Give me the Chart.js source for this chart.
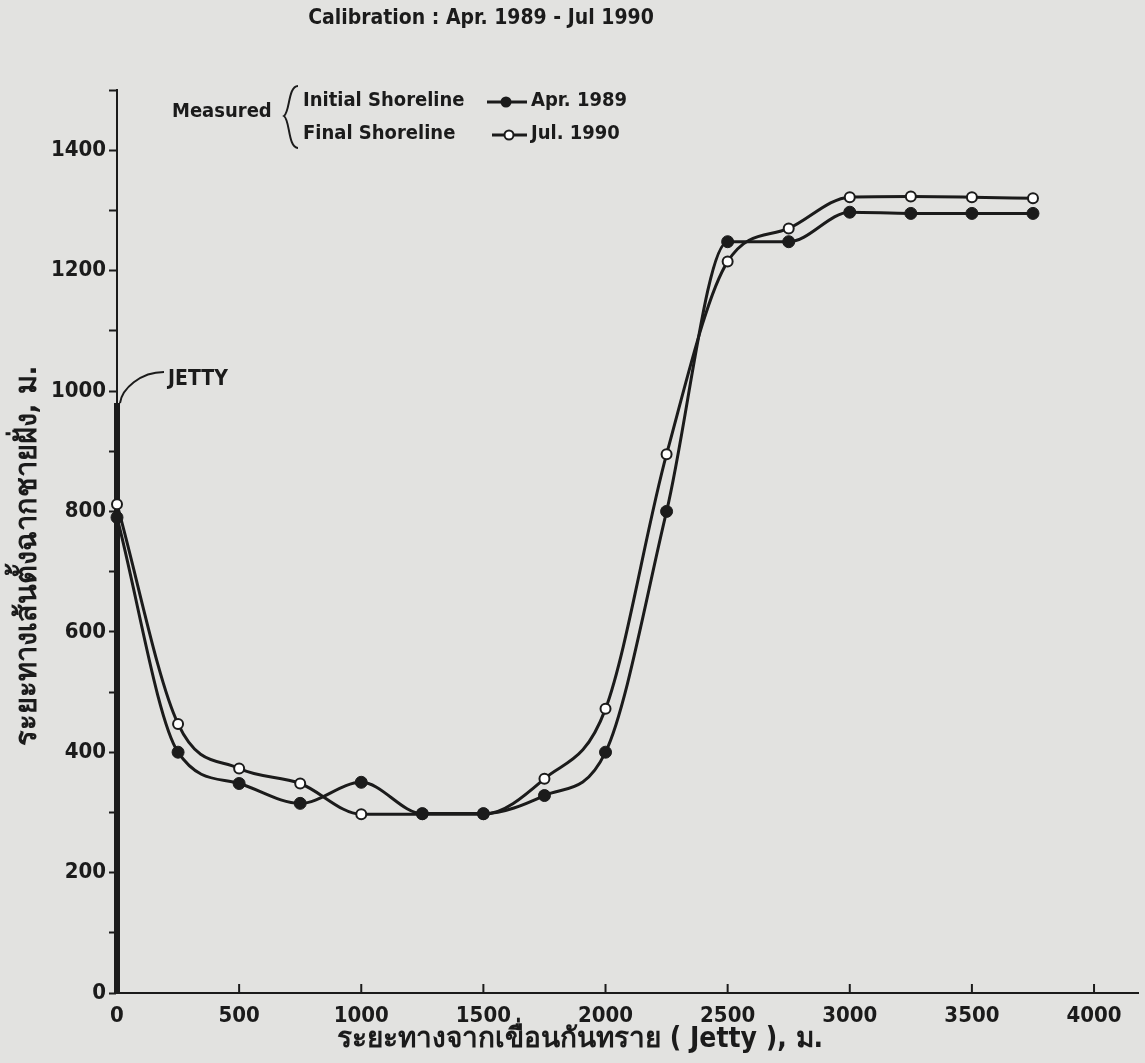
<!DOCTYPE html>
<html>
<head>
<meta charset="utf-8">
<script src="https://cdn.jsdelivr.net/npm/chart.js@4.4.0/dist/chart.umd.min.js"></script>
<style>
  html, body { margin: 0; padding: 0; background: #e2e2e0; }
  #wrap { width: 1145px; height: 1063px; position: relative; }
</style>
</head>
<body>
<div id="wrap"><canvas id="myChart"></canvas></div>
<script>
// distance from jetty (m) and shoreline position (m)
const distance = [0, 250, 500, 750, 1000, 1250, 1500, 1750, 2000, 2250, 2500, 2750, 3000, 3250, 3500, 3750];
const initialApr1989 = [790, 400, 348, 315, 350, 298, 298, 328, 400, 800, 1248, 1248, 1297, 1295, 1295, 1295];
const finalJul1990 = [812, 447, 373, 348, 297, 297, 297, 356, 472, 895, 1215, 1270, 1322, 1323, 1322, 1320];
const jettyX = [0, 0];
const jettyY = [0, 980];
const xTickValues = [0, 500, 1000, 1500, 2000, 2500, 3000, 3500, 4000];

const INK = '#1b1b1b';
const FONT = '"DejaVu Sans Condensed", "DejaVu Sans", sans-serif';

const toPoints = (xs, ys) => xs.map((x, i) => ({ x: x, y: ys[i] }));

// titles, legend, jetty label, inside x ticks
const decorations = {
  id: 'decorations',
  afterDraw(chart) {
    const ctx = chart.ctx;
    const x = chart.scales.x, y = chart.scales.y;
    ctx.save();
    ctx.fillStyle = INK;
    ctx.strokeStyle = INK;
    ctx.textBaseline = 'middle';

    // title
    ctx.font = 'bold 21px ' + FONT;
    ctx.textAlign = 'center';
    ctx.fillText('Calibration : Apr. 1989 - Jul 1990', 481, 19);

    // x axis title
    ctx.font = 'bold 28px ' + FONT;
    ctx.fillText('ระยะทางจากเขื่อนกันทราย ( Jetty ), ม.', 580, 1040);

    // y axis title
    ctx.save();
    ctx.translate(28, 556);
    ctx.rotate(-Math.PI / 2);
    ctx.font = 'bold 29px ' + FONT;
    ctx.fillText('ระยะทางเส้นตั้งฉากชายฝั่ง, ม.', 0, 0);
    ctx.restore();

    // inside ticks on x axis
    ctx.lineWidth = 2;
    xTickValues.forEach(v => {
      const px = x.getPixelForValue(v);
      ctx.beginPath();
      ctx.moveTo(px, y.bottom);
      ctx.lineTo(px, y.bottom - 9);
      ctx.stroke();
    });

    // legend
    ctx.textAlign = 'left';
    ctx.font = 'bold 20px ' + FONT;
    ctx.fillText('Measured', 172, 112);
    ctx.lineWidth = 2;
    ctx.beginPath();
    ctx.moveTo(298, 86);
    ctx.bezierCurveTo(288, 86, 290, 112, 284, 116);
    ctx.bezierCurveTo(290, 120, 288, 148, 298, 148);
    ctx.stroke();
    ctx.fillText('Initial Shoreline', 303, 101);
    ctx.fillText('Final Shoreline', 303, 134);
    ctx.fillText('Apr. 1989', 531, 101);
    ctx.fillText('Jul. 1990', 531, 134);
    ctx.lineWidth = 3;
    ctx.beginPath();
    ctx.moveTo(487, 102); ctx.lineTo(527, 102);
    ctx.moveTo(492, 135); ctx.lineTo(527, 135);
    ctx.stroke();
    ctx.beginPath();
    ctx.arc(506, 102, 5.5, 0, Math.PI * 2);
    ctx.fill();
    ctx.beginPath();
    ctx.arc(509, 135, 4.5, 0, Math.PI * 2);
    ctx.fillStyle = '#ffffff';
    ctx.fill();
    ctx.lineWidth = 2;
    ctx.stroke();
    ctx.fillStyle = INK;

    // jetty label with leader
    const jx = x.getPixelForValue(0) + 3;
    const jy = y.getPixelForValue(jettyY[1]);
    ctx.font = 'bold 21px ' + FONT;
    ctx.fillText('JETTY', 168, 380);
    ctx.lineWidth = 2;
    ctx.beginPath();
    ctx.moveTo(164, 372);
    ctx.bezierCurveTo(140, 372, jx + 2, jy - 14, jx, jy);
    ctx.stroke();

    ctx.restore();
  }
};

const ctx = document.getElementById('myChart').getContext('2d');
const chart = new Chart(ctx, {
  type: 'line',
  data: {
    datasets: [
      {
        label: 'Initial Shoreline Apr. 1989',
        data: toPoints(distance, initialApr1989),
        borderColor: INK,
        borderWidth: 3,
        backgroundColor: INK,
        pointRadius: 6,
        pointBorderWidth: 1,
        cubicInterpolationMode: 'monotone',
        clip: false
      },
      {
        label: 'Final Shoreline Jul. 1990',
        data: toPoints(distance, finalJul1990),
        borderColor: INK,
        borderWidth: 3,
        backgroundColor: '#ffffff',
        pointRadius: 5,
        pointBorderWidth: 2,
        cubicInterpolationMode: 'monotone',
        clip: false
      },
      {
        label: 'Jetty',
        data: toPoints(jettyX, jettyY),
        borderColor: INK,
        borderWidth: 6,
        pointRadius: 0,
        clip: false
      }
    ]
  },
  options: {
    responsive: true,
    maintainAspectRatio: false,
    animation: false,
    layout: { padding: { top: 90, right: 0, left: 0, bottom: 0 } },
    plugins: {
      legend: { display: false },
      tooltip: { enabled: false },
      title: { display: false }
    },
    scales: {
      x: {
        type: 'linear',
        min: 0,
        max: 4180,
        afterFit: s => { s.height = 70; },
        afterBuildTicks: s => { s.ticks = xTickValues.map(v => ({ value: v })); },
        border: { display: true, color: INK, width: 2 },
        grid: { drawOnChartArea: false, drawTicks: false },
        ticks: {
          color: INK,
          padding: 10,
          maxRotation: 0,
          autoSkip: false,
          callback: v => String(v),
          font: { family: FONT, size: 22, weight: 'bold' }
        }
      },
      y: {
        min: 0,
        max: 1500,
        afterFit: s => { s.width = 117; },
        border: { display: true, color: INK, width: 2 },
        grid: { drawOnChartArea: false, drawTicks: true, tickLength: 8, tickWidth: 2, color: INK },
        ticks: {
          stepSize: 100,
          color: INK,
          padding: 3,
          autoSkip: false,
          callback: v => (v % 200 === 0 && v <= 1400) ? String(v) : '',
          font: { family: FONT, size: 22, weight: 'bold' }
        }
      }
    }
  },
  plugins: [decorations]
});
</script>
</body>
</html>
